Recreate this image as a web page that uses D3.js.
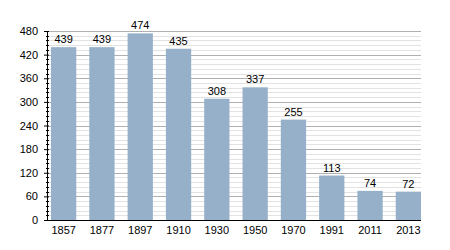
<!DOCTYPE html>
<html>
<head>
<meta charset="utf-8">
<script src="https://cdn.jsdelivr.net/npm/d3@7"></script>
<style>
  body { margin: 0; background: #fff; }
  text { font-family: "Liberation Sans", Arial, sans-serif; font-size: 11px; fill: #000; }
</style>
</head>
<body>
<div id="chart"></div>
<script>
var years = ["1857", "1877", "1897", "1910", "1930", "1950", "1970", "1991", "2011", "2013"];
var population = [439, 439, 474, 435, 308, 337, 255, 113, 74, 72];
var majorTicks = [0, 60, 120, 180, 240, 300, 360, 420, 480];

var width = 450, height = 250;
var margin = {top: 31, right: 29, bottom: 30, left: 47};
var plotW = width - margin.left - margin.right;
var plotH = height - margin.top - margin.bottom;

var svg = d3.select("#chart").append("svg")
    .attr("width", width)
    .attr("height", height);

var g = svg.append("g")
    .attr("transform", "translate(" + margin.left + "," + margin.top + ")");

var x = d3.scaleBand()
    .domain(years)
    .range([4, plotW])
    .paddingInner(0.34)
    .paddingOuter(0);

var y = d3.scaleLinear()
    .domain([0, 480])
    .range([plotH, 0]);

// minor grid every 12
var minor = d3.range(0, 481, 12).filter(d => d % 60 !== 0);
g.selectAll(".minor")
    .data(minor)
    .enter().append("line")
    .attr("x1", 0).attr("x2", plotW)
    .attr("y1", d => Math.round(y(d)) + 0.5)
    .attr("y2", d => Math.round(y(d)) + 0.5)
    .attr("stroke", "#e2e2e2");

g.selectAll(".major")
    .data(majorTicks.filter(d => d > 0))
    .enter().append("line")
    .attr("x1", 0).attr("x2", plotW)
    .attr("y1", d => Math.round(y(d)) + 0.5)
    .attr("y2", d => Math.round(y(d)) + 0.5)
    .attr("stroke", "#b0b0b0");

g.selectAll(".bar")
    .data(population)
    .enter().append("rect")
    .attr("x", (d, i) => x(years[i]))
    .attr("width", x.bandwidth())
    .attr("y", d => y(d))
    .attr("height", d => plotH - y(d))
    .attr("fill", "#97b0ca");

g.selectAll(".val")
    .data(population)
    .enter().append("text")
    .attr("x", (d, i) => x(years[i]) + x.bandwidth() / 2)
    .attr("y", d => y(d) - 4)
    .attr("text-anchor", "middle")
    .text(d => d);

// y axis
var yAxis = g.append("g")
    .call(d3.axisLeft(y).tickValues(majorTicks).tickSize(4).tickPadding(5));
yAxis.select(".domain").remove();
yAxis.append("line")
    .attr("x1", 0.5).attr("x2", 0.5)
    .attr("y1", 0).attr("y2", plotH)
    .attr("stroke", "#000");
yAxis.selectAll(".tick line").attr("x2", 2).attr("x1", -3);
yAxis.selectAll(".mtick")
    .data(minor)
    .enter().append("line")
    .attr("x1", -1).attr("x2", 2)
    .attr("y1", d => Math.round(y(d)) + 0.5)
    .attr("y2", d => Math.round(y(d)) + 0.5)
    .attr("stroke", "#000");
yAxis.selectAll("text").style("font-size", "11px").attr("font-family", null);

// x axis
var xAxis = g.append("g")
    .attr("transform", "translate(0," + plotH + ")")
    .call(d3.axisBottom(x).tickSize(0).tickPadding(6));
xAxis.select(".domain").remove();
xAxis.append("line")
    .attr("x1", 0).attr("x2", plotW)
    .attr("y1", 0.5).attr("y2", 0.5)
    .attr("stroke", "#000");
xAxis.selectAll("text").attr("font-family", null).style("font-size", "11px");
</script>
</body>
</html>
